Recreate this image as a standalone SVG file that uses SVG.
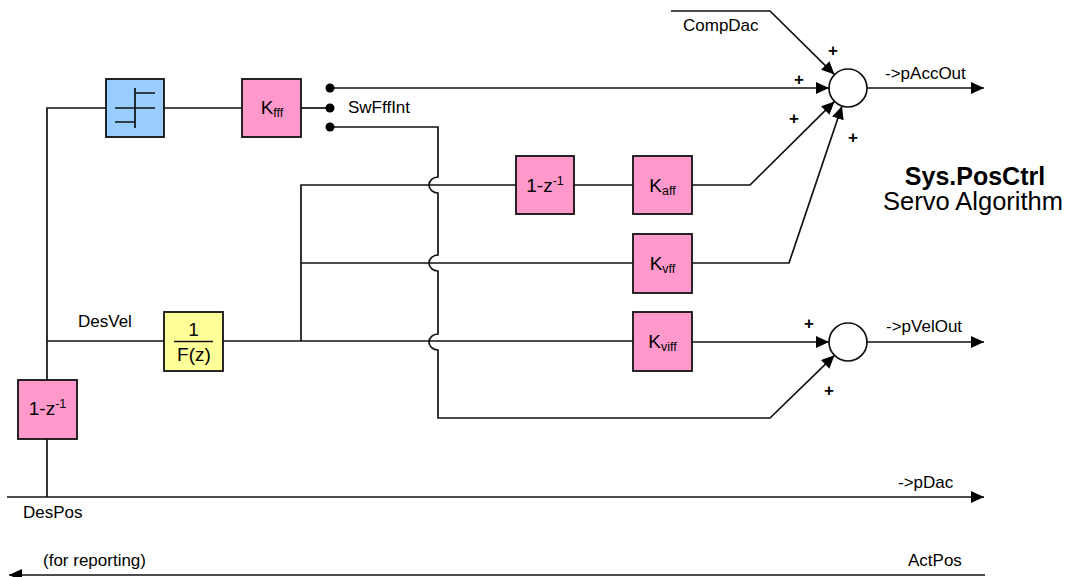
<svg xmlns="http://www.w3.org/2000/svg" width="1071" height="577" viewBox="0 0 1071 577">
<style>
.ln{fill:none;stroke:#111;stroke-width:1.7}
.bx{stroke:#111;stroke-width:1.8}
.pk{fill:#FF99CC}
.bl{fill:#99CCFF}
.yl{fill:#FFFF99}
text{font-family:"Liberation Sans",Arial,sans-serif;fill:#000}
.lb{font-size:17px}
.bt{font-size:19px}
.sb{font-size:12.5px}
.pl{font-size:17px;font-weight:bold}
.t1{font-size:25px;font-weight:bold}
.t2{font-size:25.5px}
</style>
<defs>
<marker id="ah" markerUnits="userSpaceOnUse" markerWidth="13" markerHeight="12" refX="13" refY="6" orient="auto">
<path d="M0,0 L13,6 L0,12 z" fill="#000"/>
</marker>
</defs>

<g id="connectors">
<path class="ln" d="M47,497 V439"/>
<path class="ln" d="M47,380 V108 H106"/>
<path class="ln" d="M164,108 H242"/>
<path class="ln" d="M301,108 H330"/>
<path class="ln" d="M330,88 H829" marker-end="url(#ah)"/>
<path class="ln" d="M330,127 H438 V177 A9,8 0 0 0 438,193 V255 A9,8 0 0 0 438,271 V334 A9,8 0 0 0 438,350 V418 H770 L834.5,355.3" marker-end="url(#ah)"/>
<path class="ln" d="M47,341 H164"/>
<path class="ln" d="M223,341 H633"/>
<path class="ln" d="M301,341 V185 H516"/>
<path class="ln" d="M301,263 H633"/>
<path class="ln" d="M574,185 H633"/>
<path class="ln" d="M692,185 H750 L834.5,101.4" marker-end="url(#ah)"/>
<path class="ln" d="M692,263 H789 L842,106" marker-end="url(#ah)"/>
<path class="ln" d="M692,342 H829" marker-end="url(#ah)"/>
<path class="ln" d="M671,11 H770 L834.5,74.6" marker-end="url(#ah)"/>
<path class="ln" d="M867,88 H984" marker-end="url(#ah)"/>
<path class="ln" d="M867,342 H984" marker-end="url(#ah)"/>
<path class="ln" d="M7,497 H984" marker-end="url(#ah)"/>
<path class="ln" d="M985,575 H9" marker-end="url(#ah)"/>
</g>

<g id="deadband">
<rect class="bx bl" x="106" y="79" width="58" height="58"/>
<path class="ln" d="M115,108 H155 M135,88 V128 M135,93 H155 M115,122 H135" stroke-width="1.5"/>
</g>
<g id="kfff">
<rect class="bx pk" x="242" y="79" width="59" height="58"/>
<text x="272" y="114" class="bt" text-anchor="middle">K<tspan class="sb" dy="3">fff</tspan></text>
</g>
<g id="switch">
<circle cx="330" cy="88" r="4.5" fill="#000"/>
<circle cx="330" cy="108" r="4.5" fill="#000"/>
<circle cx="330" cy="127" r="4.5" fill="#000"/>
<text x="348" y="113" class="lb">SwFffInt</text>
</g>
<g id="diff2">
<rect class="bx pk" x="516" y="156" width="58" height="58"/>
<text x="545" y="192" class="bt" text-anchor="middle">1-z<tspan class="sb" dy="-7">-1</tspan></text>
</g>
<g id="kaff">
<rect class="bx pk" x="633" y="156" width="59" height="58"/>
<text x="662.5" y="192" class="bt" text-anchor="middle">K<tspan class="sb" dy="3">aff</tspan></text>
</g>
<g id="kvff">
<rect class="bx pk" x="633" y="234" width="59" height="59"/>
<text x="662.5" y="270" class="bt" text-anchor="middle">K<tspan class="sb" dy="3">vff</tspan></text>
</g>
<g id="kviff">
<rect class="bx pk" x="633" y="312" width="59" height="59"/>
<text x="662.5" y="348" class="bt" text-anchor="middle">K<tspan class="sb" dy="3">viff</tspan></text>
</g>
<g id="filter">
<rect class="bx yl" x="164" y="312" width="59" height="59"/>
<text x="193.5" y="336" class="bt" text-anchor="middle">1</text>
<path class="ln" d="M174,341.5 H213" stroke-width="1.3"/>
<text x="194" y="361" class="bt" text-anchor="middle">F(z)</text>
</g>
<g id="diff1">
<rect class="bx pk" x="18" y="380" width="59" height="59"/>
<text x="47.5" y="415" class="bt" text-anchor="middle">1-z<tspan class="sb" dy="-7">-1</tspan></text>
</g>
<g id="sum1">
<circle cx="848" cy="88" r="19" fill="#fff" stroke="#111" stroke-width="1.7"/>
<text x="833" y="56" class="pl" text-anchor="middle">+</text>
<text x="799" y="85" class="pl" text-anchor="middle">+</text>
<text x="794" y="124" class="pl" text-anchor="middle">+</text>
<text x="853" y="143" class="pl" text-anchor="middle">+</text>
</g>
<g id="sum2">
<circle cx="848" cy="342" r="19" fill="#fff" stroke="#111" stroke-width="1.7"/>
<text x="809" y="329" class="pl" text-anchor="middle">+</text>
<text x="829" y="396" class="pl" text-anchor="middle">+</text>
</g>
<g id="labels">
<text x="683" y="31" class="lb">CompDac</text>
<text x="885" y="79" class="lb">-&gt;pAccOut</text>
<text x="78" y="327" class="lb">DesVel</text>
<text x="886" y="332" class="lb">-&gt;pVelOut</text>
<text x="898" y="488" class="lb">-&gt;pDac</text>
<text x="23" y="518" class="lb">DesPos</text>
<text x="43" y="566" class="lb">(for reporting)</text>
<text x="908" y="566" class="lb">ActPos</text>
<text x="975" y="185" class="t1" text-anchor="middle">Sys.PosCtrl</text>
<text x="973" y="210" class="t2" text-anchor="middle">Servo Algorithm</text>
</g>
</svg>
